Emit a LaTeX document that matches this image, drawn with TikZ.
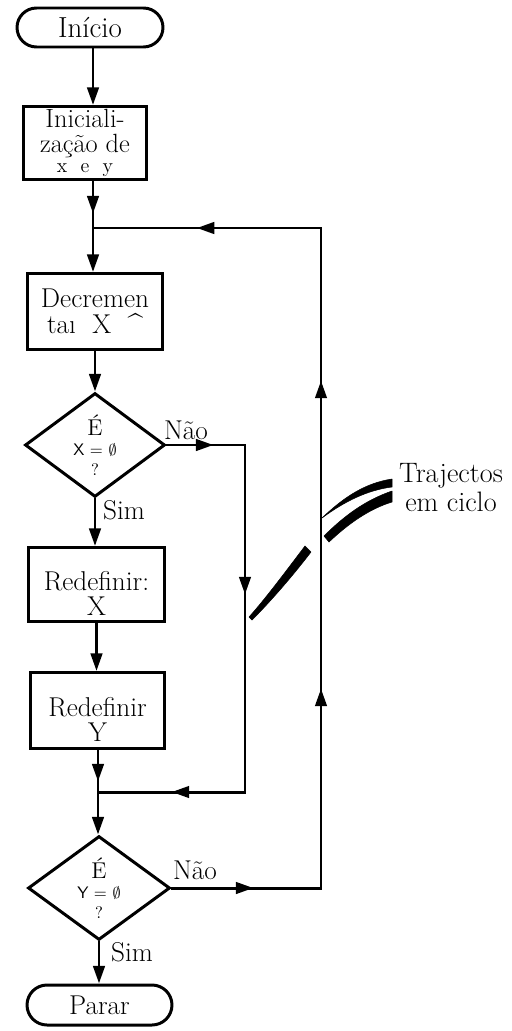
\documentclass[tikz,border=0pt]{standalone}
\usepackage{fontspec}
\usetikzlibrary{shapes.geometric,arrows.meta,decorations.markings}
\newcommand{\fbig}{\fontsize{15.5}{14.6}\selectfont}
\newcommand{\fsml}{\fontsize{9.5}{11}\selectfont}
\tikzset{
  ln/.style={line width=1.7pt},
  arr/.style={ln,-{Triangle[length=10pt,width=6.5pt]}},
  mid/.style={postaction={decorate,decoration={markings,mark=at position #1 with {\arrow{Triangle[length=10pt,width=6.5pt]}}}}},
  box/.style={draw,ln,rectangle,align=center,inner sep=0pt,font=\fbig},
  term/.style={draw,ln,rectangle,inner sep=0pt,font=\fbig},
  dec/.style={draw,ln,diamond,align=center,inner sep=0pt,font=\fbig},
  lbl/.style={font=\fbig,inner sep=0pt},
  pen/.style={fill=black,draw=black,line width=0.3pt,line join=round}
}
\begin{document}
\begin{tikzpicture}[x=0.02cm,y=-0.02cm]
\fill[white] (0,0) rectangle (511,1031);
\useasboundingbox (0,0) rectangle (511,1031);

% nodes
\node[term,rounded corners=0.39cm,minimum width=2.92cm,minimum height=0.78cm] (inicio) at (90,27.5) {\fontsize{16.5}{15}\selectfont Início};
\node[box,minimum width=2.46cm,minimum height=1.46cm,font=\fontsize{15}{14.4}\selectfont] (inic) at (85,143)
  {Iniciali-\\zação de\\[-3pt]{\fontsize{11.5}{11}\selectfont x\ \ e\ \ y}};
\node[box,minimum width=2.70cm,minimum height=1.52cm] (decr) at (95,311.5)
  {Decremen\\ta\i~~X~~\textasciicircum};
\node[dec,minimum width=2.80cm,minimum height=1.84cm] (d1) at (95,445)
  {{\fontsize{13}{14}\selectfont É}\\[-3pt]{\fsml\sffamily X = $\emptyset$}\\[-3.5pt]{\fsml ?}};
\node[box,minimum width=2.72cm,minimum height=1.48cm] (rx) at (96.5,584.5)
  {\rule{0pt}{21pt}Redefinir:\\X};
\node[box,minimum width=2.68cm,minimum height=1.52cm] (ry) at (97.5,710.5)
  {\rule{0pt}{21pt}Redefinir\\Y};
\node[dec,minimum width=2.84cm,minimum height=1.82cm] (d2) at (99,888)
  {{\fontsize{13}{14}\selectfont É}\\[-3pt]{\fsml\sffamily Y = $\emptyset$}\\[-3.5pt]{\fsml ?}};
\node[term,rounded corners=0.40cm,minimum width=2.90cm,minimum height=0.80cm] (parar) at (99.5,1005) {Parar};

% labels
\node[lbl] (nao1) at (186,430) {Não};
\node[lbl] (sim1) at (124,510) {Sim};
\node[lbl] (nao2) at (195,870) {Não};
\node[lbl] (sim2) at (132,952) {Sim};
\node[lbl,align=center,font=\fontsize{16}{16.5}\selectfont] (traj) at (451,488) {Trajectos\\em ciclo};

% coordinates
\coordinate (j1) at (93,228);
\coordinate (c1) at (321,228);
\coordinate (c2) at (321,888);
\coordinate (c3) at (245,445);
\coordinate (c4) at (245,792);
\coordinate (j2) at (98,792);

% connectors
\draw[arr] (inicio.south -| j1) -- (inic.north -| j1);
\draw[ln,mid=0.65cm] (inic.south -| j1) -- (j1);
\draw[arr] (j1) -- (decr.north -| j1);
\draw[arr] (decr.south) -- (d1.north);
\draw[arr] (d1.south) -- (d1.south |- rx.north);
\draw[arr] (rx.south) -- (rx.south |- ry.north);
\draw[ln,mid=0.63cm] (ry.south -| j2) -- (j2);
\draw[arr] (j2) -- (d2.north -| j2);
\draw[arr] (d2.south) -- (d2.south |- parar.north);
\draw[ln,mid=0.94cm,mid=4.56cm,mid=9.98cm] (d1.east) -- (c3) -- (c4) -- (j2);
\draw[ln,mid=1.64cm,mid=6.98cm,mid=13.14cm,mid=18.68cm] (d2.east) -- (c2) -- (c1) -- (j1);

% pen strokes (callout)
\fill[pen] (322,518) .. controls (345,496) and (366,483) .. (392,479) -- (392,487) .. controls (368,490) and (345,501) .. (322,518) -- cycle;
\fill[pen] (324,536) .. controls (345,515) and (366,500) .. (392,491) -- (392,502) .. controls (369,509) and (348,524) .. (329,542) -- cycle;
\fill[pen] (249,617) .. controls (266,598) and (286,571) .. (305,546) -- (311,552) .. controls (291,578) and (270,602) .. (252,620) -- cycle;
\end{tikzpicture}
\end{document}
